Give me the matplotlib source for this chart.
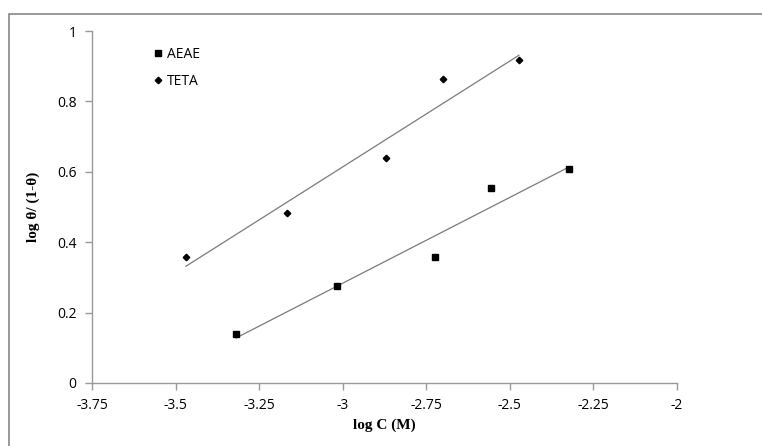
import numpy as np
import matplotlib.pyplot as plt
from matplotlib.patches import Rectangle

aeae_x = [-3.319, -3.017, -2.724, -2.556, -2.323]
aeae_y = [0.139, 0.276, 0.358, 0.554, 0.608]
teta_x = [-3.469, -3.167, -2.871, -2.700, -2.473]
teta_y = [0.358, 0.483, 0.639, 0.864, 0.918]

x_ticks = [-3.75, -3.5, -3.25, -3, -2.75, -2.5, -2.25, -2]
x_labels = ['-3.75', '-3.5', '-3.25', '-3', '-2.75', '-2.5', '-2.25', '-2']
y_ticks = [0, 0.2, 0.4, 0.6, 0.8, 1]
y_labels = ['0', '0.2', '0.4', '0.6', '0.8', '1']

tick_font = ['Open Sans', 'DejaVu Sans']

fig = plt.figure(figsize=(7.62, 4.46), dpi=100)
fig.patches.append(Rectangle((9/762, -0.1), 1.2, (446-14)/446 + 0.1, transform=fig.transFigure,
                             fill=False, edgecolor='#888888', linewidth=1.2))
ax = fig.add_axes([92/762, 63/446, 585/762, 352/446])

# trendlines
for xs, ys in [(aeae_x, aeae_y), (teta_x, teta_y)]:
    m, b = np.polyfit(xs, ys, 1)
    xx = np.array([min(xs), max(xs)])
    ax.plot(xx, m*xx + b, color='#7a7a7a', linewidth=0.9, zorder=1)

ax.plot(aeae_x, aeae_y, 's', color='black', markersize=5, linestyle='none', label='AEAE', zorder=2)
ax.plot(teta_x, teta_y, 'D', color='black', markersize=3.3, linestyle='none', label='TETA', zorder=2)

ax.set_xlim(-3.75, -2)
ax.set_ylim(0, 1)
ax.set_xticks(x_ticks)
ax.set_xticklabels(x_labels, family=tick_font, fontsize=10)
ax.set_yticks(y_ticks)
ax.set_yticklabels(y_labels, family=tick_font, fontsize=10)
ax.tick_params(axis='both', color='#999999', length=5, width=1, direction='out')
ax.tick_params(axis='x', pad=6)
ax.tick_params(axis='y', pad=6)
for s in ['top', 'right']:
    ax.spines[s].set_visible(False)
for s in ['left', 'bottom']:
    ax.spines[s].set_color('#999999')
    ax.spines[s].set_linewidth(1)

ax.set_xlabel('log C (M)', family='Liberation Serif', fontweight='bold', fontsize=11, labelpad=4)
ax.set_ylabel('log θ/ (1-θ)', family='Liberation Serif', fontweight='bold', fontsize=11, labelpad=12)

leg = ax.legend(loc='upper left', bbox_to_anchor=(0.08, 0.99), frameon=False,
                prop={'family': tick_font, 'size': 10}, handletextpad=0.1,
                handlelength=1.0, labelspacing=0.85)

fig.savefig('out.png', dpi=100)
